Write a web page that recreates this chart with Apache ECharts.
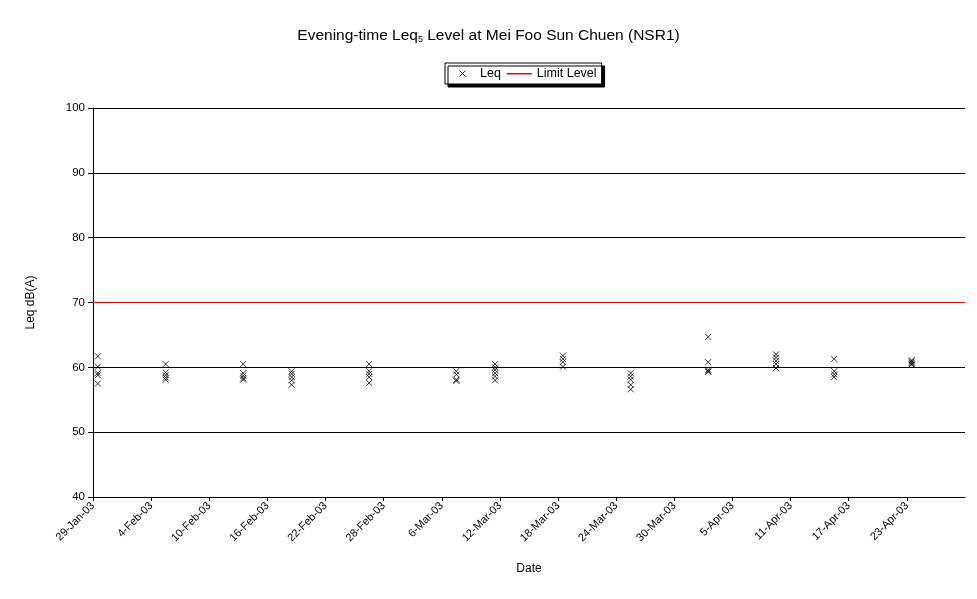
<!DOCTYPE html>
<html>
<head>
<meta charset="utf-8">
<script src="https://cdn.jsdelivr.net/npm/echarts@6/dist/echarts.min.js"></script>
<style>
html,body{margin:0;padding:0;background:#fff;}
#chart{width:977px;height:599px;}
</style>
</head>
<body>
<div id="chart"></div>
<script>
// ---- data ----
var startDate = '2003-01-29';
var endDate = '2003-04-29';
var tickMonths = ['Jan','Feb','Mar','Apr','May','Jun','Jul','Aug','Sep','Oct','Nov','Dec'];
var obsDates = ['2003-01-29','2003-02-05','2003-02-13','2003-02-18','2003-02-26','2003-03-07','2003-03-11','2003-03-18','2003-03-25','2003-04-02','2003-04-09','2003-04-15','2003-04-23'];
var leqValues = [
  [61.7, 60.1, 59.1, 58.8, 57.5],
  [60.5, 59.2, 58.8, 58.4, 58.1],
  [60.5, 59.1, 58.7, 58.3, 58.1],
  [59.4, 59.0, 58.5, 58.0, 57.3],
  [60.5, 59.4, 59.0, 58.5, 57.6],
  [59.4, 58.9, 58.1, 57.9],
  [60.5, 60.0, 59.6, 59.1, 58.6, 58.0],
  [61.8, 61.3, 60.8, 60.1],
  [59.1, 58.6, 58.1, 57.3, 56.6],
  [64.7, 60.8, 59.6, 59.4, 59.3],
  [62.0, 61.5, 61.0, 60.5, 59.9],
  [61.3, 59.4, 58.9, 58.5],
  [61.1, 60.9, 60.7, 60.5, 60.4]
];
var limitLevel = 70;

// ---- build ----
var DAY = 86400000;
function toMs(s){ var p = s.split('-'); return Date.UTC(+p[0], +p[1]-1, +p[2]); }
var t0 = toMs(startDate);
var spanDays = (toMs(endDate) - t0) / DAY;
function dayLabel(d){
  var dt = new Date(t0 + d*DAY);
  return dt.getUTCDate() + '-' + tickMonths[dt.getUTCMonth()] + '-' + String(dt.getUTCFullYear()).slice(2);
}
var leqData = [];
obsDates.forEach(function(ds, i){
  var x = (toMs(ds) - t0)/DAY + 0.5;
  leqData.push.apply(leqData, leqValues[i].map(function(v){ return [x, v]; }));
});

var font = 'Liberation Sans, Arial, sans-serif';
var lineIcon = 'path://M0,0h0.01v0.01h-0.01zM0,2.5h25v1.5H0zM0,5.99h0.01v0.01h-0.01z';
var chart = echarts.init(document.getElementById('chart'), null, {renderer:'canvas'});
chart.setOption({
  backgroundColor: '#fff',
  animation: false,
  title: {
    text: 'Evening-time Leq{sub|5} Level at Mei Foo Sun Chuen (NSR1)',
    left: 'center',
    top: 22,
    textStyle: {
      fontFamily: font, fontSize: 15.5, fontWeight: 'normal', color: '#000',
      rich: { sub: { fontFamily: font, fontSize: 9, color: '#000', verticalAlign: 'bottom', padding: [8,0,0,0] } }
    }
  },
  legend: {
    left: 445, top: 63,
    padding: [4, 5, 4, 14],
    itemWidth: 25, itemHeight: 6, itemGap: 6,
    borderColor: '#000', borderWidth: 1,
    backgroundColor: '#fff',
    shadowColor: '#000', shadowBlur: 0, shadowOffsetX: 3, shadowOffsetY: 3,
    textStyle: { fontFamily: font, fontSize: 12.5, color: '#000' },
    data: [
      { name: 'Leq', itemStyle: { borderWidth: 1, borderColor: '#000', color: 'rgba(0,0,0,0)' } },
      { name: 'Limit Level', icon: lineIcon, itemStyle: { color: '#ff0000', borderWidth: 0, opacity: 1 } }
    ]
  },
  grid: { left: 93, right: 12, top: 108, bottom: 102, containLabel: false },
  xAxis: {
    type: 'value',
    min: 0, max: spanDays, interval: 6,
    name: 'Date', nameLocation: 'middle', nameGap: 66,
    nameTextStyle: { fontFamily: font, fontSize: 12, color: '#000' },
    axisLine: { show: true, lineStyle: { color: '#000', width: 1 } },
    axisTick: { show: true, length: 4, lineStyle: { color: '#000' } },
    splitLine: { show: false },
    axisLabel: {
      rotate: 45, margin: 7,
      fontFamily: font, fontSize: 11, color: '#000',
      showMaxLabel: false,
      formatter: function(v){ return v >= spanDays ? '' : dayLabel(v); }
    }
  },
  yAxis: {
    type: 'value',
    min: 40, max: 100, interval: 10,
    name: 'Leq dB(A)', nameLocation: 'middle', nameGap: 56, nameRotate: 90,
    nameTextStyle: { fontFamily: font, fontSize: 12, color: '#000' },
    axisLine: { show: true, lineStyle: { color: '#000', width: 1 } },
    axisTick: { show: true, inside: false, length: 5, lineStyle: { color: '#000' } },
    splitLine: { show: true, lineStyle: { color: '#000', width: 1 } },
    axisLabel: { fontFamily: font, fontSize: 11.5, color: '#000', margin: 8 }
  },
  series: [
    {
      name: 'Leq',
      type: 'scatter',
      symbol: 'path://M0,0L10,10M10,0L0,10',
      symbolKeepAspect: true,
      symbolSize: 6,
      itemStyle: { color: 'rgba(0,0,0,0)', borderColor: '#000', borderWidth: 1 },
      data: leqData,
      z: 3
    },
    {
      name: 'Limit Level',
      type: 'line',
      symbol: 'none',
      lineStyle: { color: '#ff0000', width: 1 },
      itemStyle: { color: '#ff0000' },
      data: [[0, limitLevel], [spanDays, limitLevel]],
      z: 2
    }
  ]
});
</script>
</body>
</html>
